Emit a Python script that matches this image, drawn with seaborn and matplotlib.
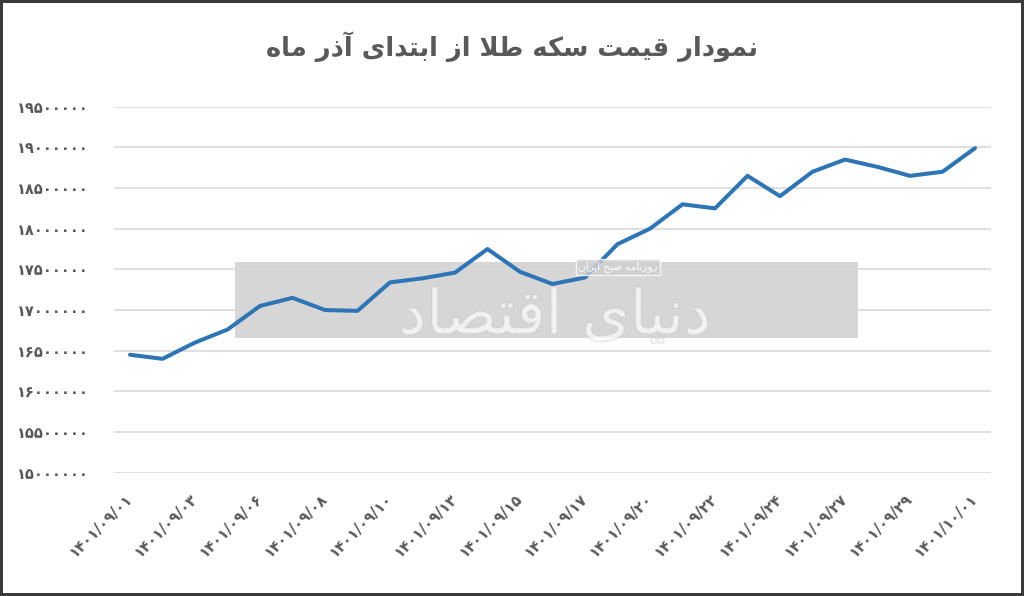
import numpy as np
import pandas as pd
import matplotlib
matplotlib.use("Agg")
import matplotlib.pyplot as plt
import matplotlib.patches as mpatches
import matplotlib.patheffects as pe
import seaborn as sns

# ---------------- data ----------------
title_text = "نمودار قیمت سکه طلا از ابتدای آذر ماه"
watermark_text = "دنیای اقتصاد"
watermark_small = "روزنامه صبح ایران"

dates = ["۱۴۰۱/۰۹/۰۱", "۱۴۰۱/۰۹/۰۲", "۱۴۰۱/۰۹/۰۳", "۱۴۰۱/۰۹/۰۵", "۱۴۰۱/۰۹/۰۶",
         "۱۴۰۱/۰۹/۰۷", "۱۴۰۱/۰۹/۰۸", "۱۴۰۱/۰۹/۰۹", "۱۴۰۱/۰۹/۱۰", "۱۴۰۱/۰۹/۱۲",
         "۱۴۰۱/۰۹/۱۳", "۱۴۰۱/۰۹/۱۴", "۱۴۰۱/۰۹/۱۵", "۱۴۰۱/۰۹/۱۶", "۱۴۰۱/۰۹/۱۷",
         "۱۴۰۱/۰۹/۱۹", "۱۴۰۱/۰۹/۲۰", "۱۴۰۱/۰۹/۲۱", "۱۴۰۱/۰۹/۲۲", "۱۴۰۱/۰۹/۲۳",
         "۱۴۰۱/۰۹/۲۴", "۱۴۰۱/۰۹/۲۶", "۱۴۰۱/۰۹/۲۷", "۱۴۰۱/۰۹/۲۸", "۱۴۰۱/۰۹/۲۹",
         "۱۴۰۱/۰۹/۳۰", "۱۴۰۱/۱۰/۰۱"]
prices = [16450000, 16400000, 16600000, 16760000, 17050000,
          17150000, 17000000, 16990000, 17340000, 17390000,
          17460000, 17750000, 17470000, 17320000, 17400000,
          17810000, 18000000, 18300000, 18250000, 18650000,
          18400000, 18700000, 18850000, 18760000, 18650000,
          18700000, 18990000]
ytick_values = [15000000, 15500000, 16000000, 16500000, 17000000,
                17500000, 18000000, 18500000, 19000000, 19500000]

# ---------------- helpers ----------------
PERSIAN_DIGITS = str.maketrans("0123456789", "۰۱۲۳۴۵۶۷۸۹")

DUAL = {
    'ب': (0xFE8F, 0xFE90, 0xFE91, 0xFE92),
    'ت': (0xFE95, 0xFE96, 0xFE97, 0xFE98),
    'ح': (0xFEA1, 0xFEA2, 0xFEA3, 0xFEA4),
    'س': (0xFEB1, 0xFEB2, 0xFEB3, 0xFEB4),
    'ص': (0xFEB9, 0xFEBA, 0xFEBB, 0xFEBC),
    'ط': (0xFEC1, 0xFEC2, 0xFEC3, 0xFEC4),
    'ق': (0xFED5, 0xFED6, 0xFED7, 0xFED8),
    'ل': (0xFEDD, 0xFEDE, 0xFEDF, 0xFEE0),
    'م': (0xFEE1, 0xFEE2, 0xFEE3, 0xFEE4),
    'ن': (0xFEE5, 0xFEE6, 0xFEE7, 0xFEE8),
    'ه': (0xFEE9, 0xFEEA, 0xFEEB, 0xFEEC),
    'ک': (0xFB8E, 0xFB8F, 0xFB90, 0xFB91),
    'ی': (0xFBFC, 0xFBFD, 0xFBFE, 0xFBFF),
}
RIGHT = {
    'ا': (0xFE8D, 0xFE8E),
    'آ': (0xFE81, 0xFE82),
    'د': (0xFEA9, 0xFEAA),
    'ذ': (0xFEAB, 0xFEAC),
    'ر': (0xFEAD, 0xFEAE),
    'ز': (0xFEAF, 0xFEB0),
    'و': (0xFEED, 0xFEEE),
}


def shape(s):
    """Minimal Persian shaping + visual reordering for matplotlib."""
    chars = list(s)
    n = len(chars)
    out = []
    prev_joins = False
    i = 0
    while i < n:
        c = chars[i]
        if c == 'ل' and i + 1 < n and chars[i + 1] in ('ا', 'آ'):
            a = chars[i + 1]
            if prev_joins:
                g = 0xFEFC if a == 'ا' else 0xFEF6
            else:
                g = 0xFEFB if a == 'ا' else 0xFEF5
            out.append(chr(g))
            prev_joins = False
            i += 2
            continue
        if c in DUAL:
            nxt = chars[i + 1] if i + 1 < n else ''
            nj = nxt in DUAL or nxt in RIGHT
            iso, fin, ini, med = DUAL[c]
            if prev_joins and nj:
                g = med
            elif prev_joins:
                g = fin
            elif nj:
                g = ini
            else:
                g = iso
            out.append(chr(g))
            prev_joins = True
        elif c in RIGHT:
            iso, fin = RIGHT[c]
            out.append(chr(fin if prev_joins else iso))
            prev_joins = False
        else:
            out.append(c)
            prev_joins = False
        i += 1
    return ''.join(reversed(out))


# ---------------- plot ----------------
sns.set_theme(style="white")
plt.rcParams['font.family'] = ['DejaVu Sans']

TXT = "#595959"
GRID = "#d9d9d9"
LINE = "#2e75b6"

df = pd.DataFrame({"idx": np.arange(len(dates)), "date": dates, "price": prices})

fig = plt.figure(figsize=(10.24, 5.96), dpi=100)
fig.patch.set_facecolor("white")
fig.patch.set_edgecolor("#3a3a3a")
fig.patch.set_linewidth(3)

ax = fig.add_axes([113.75 / 1024, 1 - 472.7 / 596, 877.5 / 1024, (472.7 - 106.7) / 596])
ax.set_axisbelow(True)

# watermark band
band = mpatches.Rectangle((235 / 1024, 1 - 338 / 596), (858 - 235) / 1024, 76 / 596,
                          transform=fig.transFigure, facecolor="#d6d6d6",
                          edgecolor="none", zorder=0.1)
ax.add_patch(band)
wm = ax.text(555 / 1024, 1 - 317 / 596, shape(watermark_text), fontsize=44,
             color="white", ha="center", va="center", transform=fig.transFigure,
             zorder=4, alpha=0.45)
wm.set_path_effects([pe.withStroke(linewidth=1.5, foreground="#c8c8c8")])
ax.text(618 / 1024, 1 - 267 / 596, shape(watermark_small), fontsize=7.5, color="white",
        ha="center", va="center", transform=fig.transFigure, zorder=4.5,
        bbox=dict(boxstyle="square,pad=0.25", facecolor="#cfcfcf", edgecolor="white",
                  linewidth=1, alpha=0.8))

sns.lineplot(data=df, x="idx", y="price", ax=ax, color=LINE, linewidth=2.9,
             zorder=3, solid_capstyle="round", solid_joinstyle="round")

ax.set_xlim(-0.5, len(dates) - 0.5)
ax.set_ylim(15000000, 19500000)
ax.set_yticks(ytick_values)
ax.set_yticklabels([str(v).translate(PERSIAN_DIGITS) for v in ytick_values],
                   fontsize=10.5, fontweight="bold", color=TXT)
ax.yaxis.grid(True, color=GRID, linewidth=1.2)
ax.xaxis.grid(False)

tick_idx = df["idx"].values[::2]
ax.set_xticks(tick_idx)
ax.set_xticklabels([d for d in df["date"].values[::2]], rotation=45, ha="right",
                   va="center", rotation_mode="anchor", fontsize=10.5,
                   fontweight="bold", color=TXT)
ax.tick_params(axis="x", length=0, pad=17)
ax.tick_params(axis="y", length=0, pad=18)

for s in ax.spines.values():
    s.set_visible(False)
ax.set_xlabel("")
ax.set_ylabel("")

fig.text(0.5, 1 - 47 / 596, shape(title_text), ha="center", va="center",
         fontsize=18.5, fontweight="bold", color=TXT)

fig.savefig("out.png", dpi=100, facecolor=fig.get_facecolor(),
            edgecolor=fig.get_edgecolor())
